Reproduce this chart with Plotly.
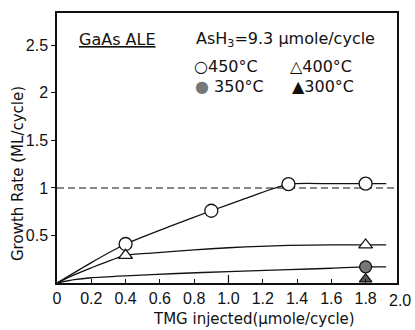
import plotly.graph_objects as go

# Measured growth rates (ML/cycle) versus TMG supply (umole/cycle)
tmg_450 = [0.4, 0.9, 1.35, 1.8]
rate_450 = [0.41, 0.76, 1.04, 1.045]
tmg_400 = [0.4, 1.8]
rate_400 = [0.29, 0.40]
tmg_350 = [1.8]
rate_350 = [0.17]
tmg_300 = [1.8]
rate_300 = [0.04]

# Hand-drawn guide curves through each temperature series
curve450_x = [0, 0.2, 0.4, 0.65, 0.9, 1.1, 1.35, 1.6, 1.92]
curve450_y = [0, 0.215, 0.41, 0.59, 0.76, 0.89, 1.04, 1.045, 1.045]
curve400_x = [0, 0.1, 0.2, 0.4, 0.55, 0.7, 0.9, 1.1, 1.35, 1.6, 1.92]
curve400_y = [0, 0.085, 0.16, 0.29, 0.315, 0.335, 0.36, 0.38, 0.395, 0.40, 0.40]
curve350_x = [0, 0.1, 0.2, 0.4, 0.7, 1.0, 1.35, 1.6, 1.8, 1.92]
curve350_y = [0, 0.035, 0.055, 0.075, 0.10, 0.12, 0.14, 0.155, 0.17, 0.17]

x_ticks = [0, 0.2, 0.4, 0.6, 0.8, 1.0, 1.2, 1.4, 1.6, 1.8]
x_tick_text = ["0", "0.2", "0.4", "0.6", "0.8", "1.0", "1.2", "1.4", "1.6", "1.8"]
y_ticks = [0.5, 1, 1.5, 2, 2.5]
y_tick_text = ["0.5", "1", "1.5", "2", "2.5"]
monolayer = 1.0

FONT = "DejaVu Sans"
TICK_FONT = "Liberation Sans"
INK = "#111"

fig = go.Figure()

for cx, cy in [(curve450_x, curve450_y), (curve400_x, curve400_y), (curve350_x, curve350_y)]:
    fig.add_trace(go.Scatter(x=cx, y=cy, mode="lines", line=dict(color=INK, width=1.3, shape="spline", smoothing=0.6),
                             hoverinfo="skip", showlegend=False, cliponaxis=False))

# one-monolayer reference
fig.add_trace(go.Scatter(x=[0, 1.983], y=[monolayer, monolayer], mode="lines",
                         line=dict(color=INK, width=1.1, dash="7px,4px"), showlegend=False))

fig.add_trace(go.Scatter(x=tmg_450, y=rate_450, mode="markers", cliponaxis=False,
                         marker=dict(symbol="circle", size=13, color="white", line=dict(color=INK, width=1.3)),
                         showlegend=False))
fig.add_trace(go.Scatter(x=tmg_400, y=rate_400, mode="markers", cliponaxis=False,
                         marker=dict(symbol="triangle-up", size=12, color="white", line=dict(color=INK, width=1.3)),
                         showlegend=False))
fig.add_trace(go.Scatter(x=tmg_350, y=rate_350, mode="markers", cliponaxis=False,
                         marker=dict(symbol="circle", size=12, color="#777", line=dict(color=INK, width=1.3)),
                         showlegend=False))
fig.add_trace(go.Scatter(x=tmg_300, y=rate_300, mode="markers", cliponaxis=False,
                         marker=dict(symbol="triangle-up", size=11, color="#555", line=dict(color=INK, width=1.3)),
                         showlegend=False))

# longer tick at 1.0
fig.add_shape(type="line", xref="x", yref="paper", x0=1.0, x1=1.0, y0=0, y1=0.03,
              line=dict(color=INK, width=1.2))

W, H = 415, 330
L, R, T, B = 57, 18, 13, 47
pw, ph = W - L - R, H - T - B


def px(x):
    return (x - L) / pw


def py(y):
    return (H - B - y) / ph


ann = [
    dict(text="<u>GaAs ALE</u>", x=px(77), y=py(39)),
    dict(text="AsH<sub>3</sub>=9.3 μmole/cycle", x=px(194), y=py(39)),
    dict(text="○450°C", x=px(192), y=py(67)),
    dict(text="△400°C", x=px(288), y=py(67)),
    dict(text="<span style='color:#777'>●</span> 350°C", x=px(193), y=py(86)),
    dict(text="▲300°C", x=px(290), y=py(86)),
]
for a in ann:
    fig.add_annotation(text=a["text"], x=a["x"], y=a["y"], xref="paper", yref="paper",
                       xanchor="left", yanchor="middle", showarrow=False,
                       font=dict(family=FONT, size=16, color=INK))

# axis titles and the trailing 2.0 tick label
fig.add_annotation(text="TMG injected(μmole/cycle)", x=px(254), y=py(319), xref="paper", yref="paper",
                   xanchor="center", yanchor="middle",
                   showarrow=False, font=dict(family=FONT, size=15, color=INK))
fig.add_annotation(text="Growth Rate (ML/cycle)", x=px(18), y=py(174), xref="paper", yref="paper",
                   xanchor="center", yanchor="middle",
                   showarrow=False, textangle=-90, font=dict(family=FONT, size=15, color=INK))
fig.add_annotation(text="2.0", x=px(400), y=py(300), xref="paper", yref="paper",
                   xanchor="center", yanchor="middle",
                   showarrow=False, font=dict(family=TICK_FONT, size=16, color=INK))

fig.update_xaxes(range=[0, 1.983], tickvals=x_ticks, ticktext=x_tick_text, ticks="inside", ticklen=4,
                 tickcolor=INK, showline=True, linecolor=INK, linewidth=1.5, mirror=True,
                 showgrid=False, zeroline=False, tickfont=dict(family=TICK_FONT, size=16, color=INK))
fig.update_yaxes(range=[0, 2.84], tickvals=y_ticks, ticktext=y_tick_text, ticks="outside", ticklen=4,
                 tickcolor=INK, showline=True, linecolor=INK, linewidth=1.5, mirror=True,
                 showgrid=False, zeroline=False, tickfont=dict(family=TICK_FONT, size=16, color=INK))

fig.update_layout(width=W, height=H, margin=dict(l=L, r=R, t=T, b=B),
                  paper_bgcolor="white", plot_bgcolor="white", showlegend=False)

fig.write_html("out.html")
